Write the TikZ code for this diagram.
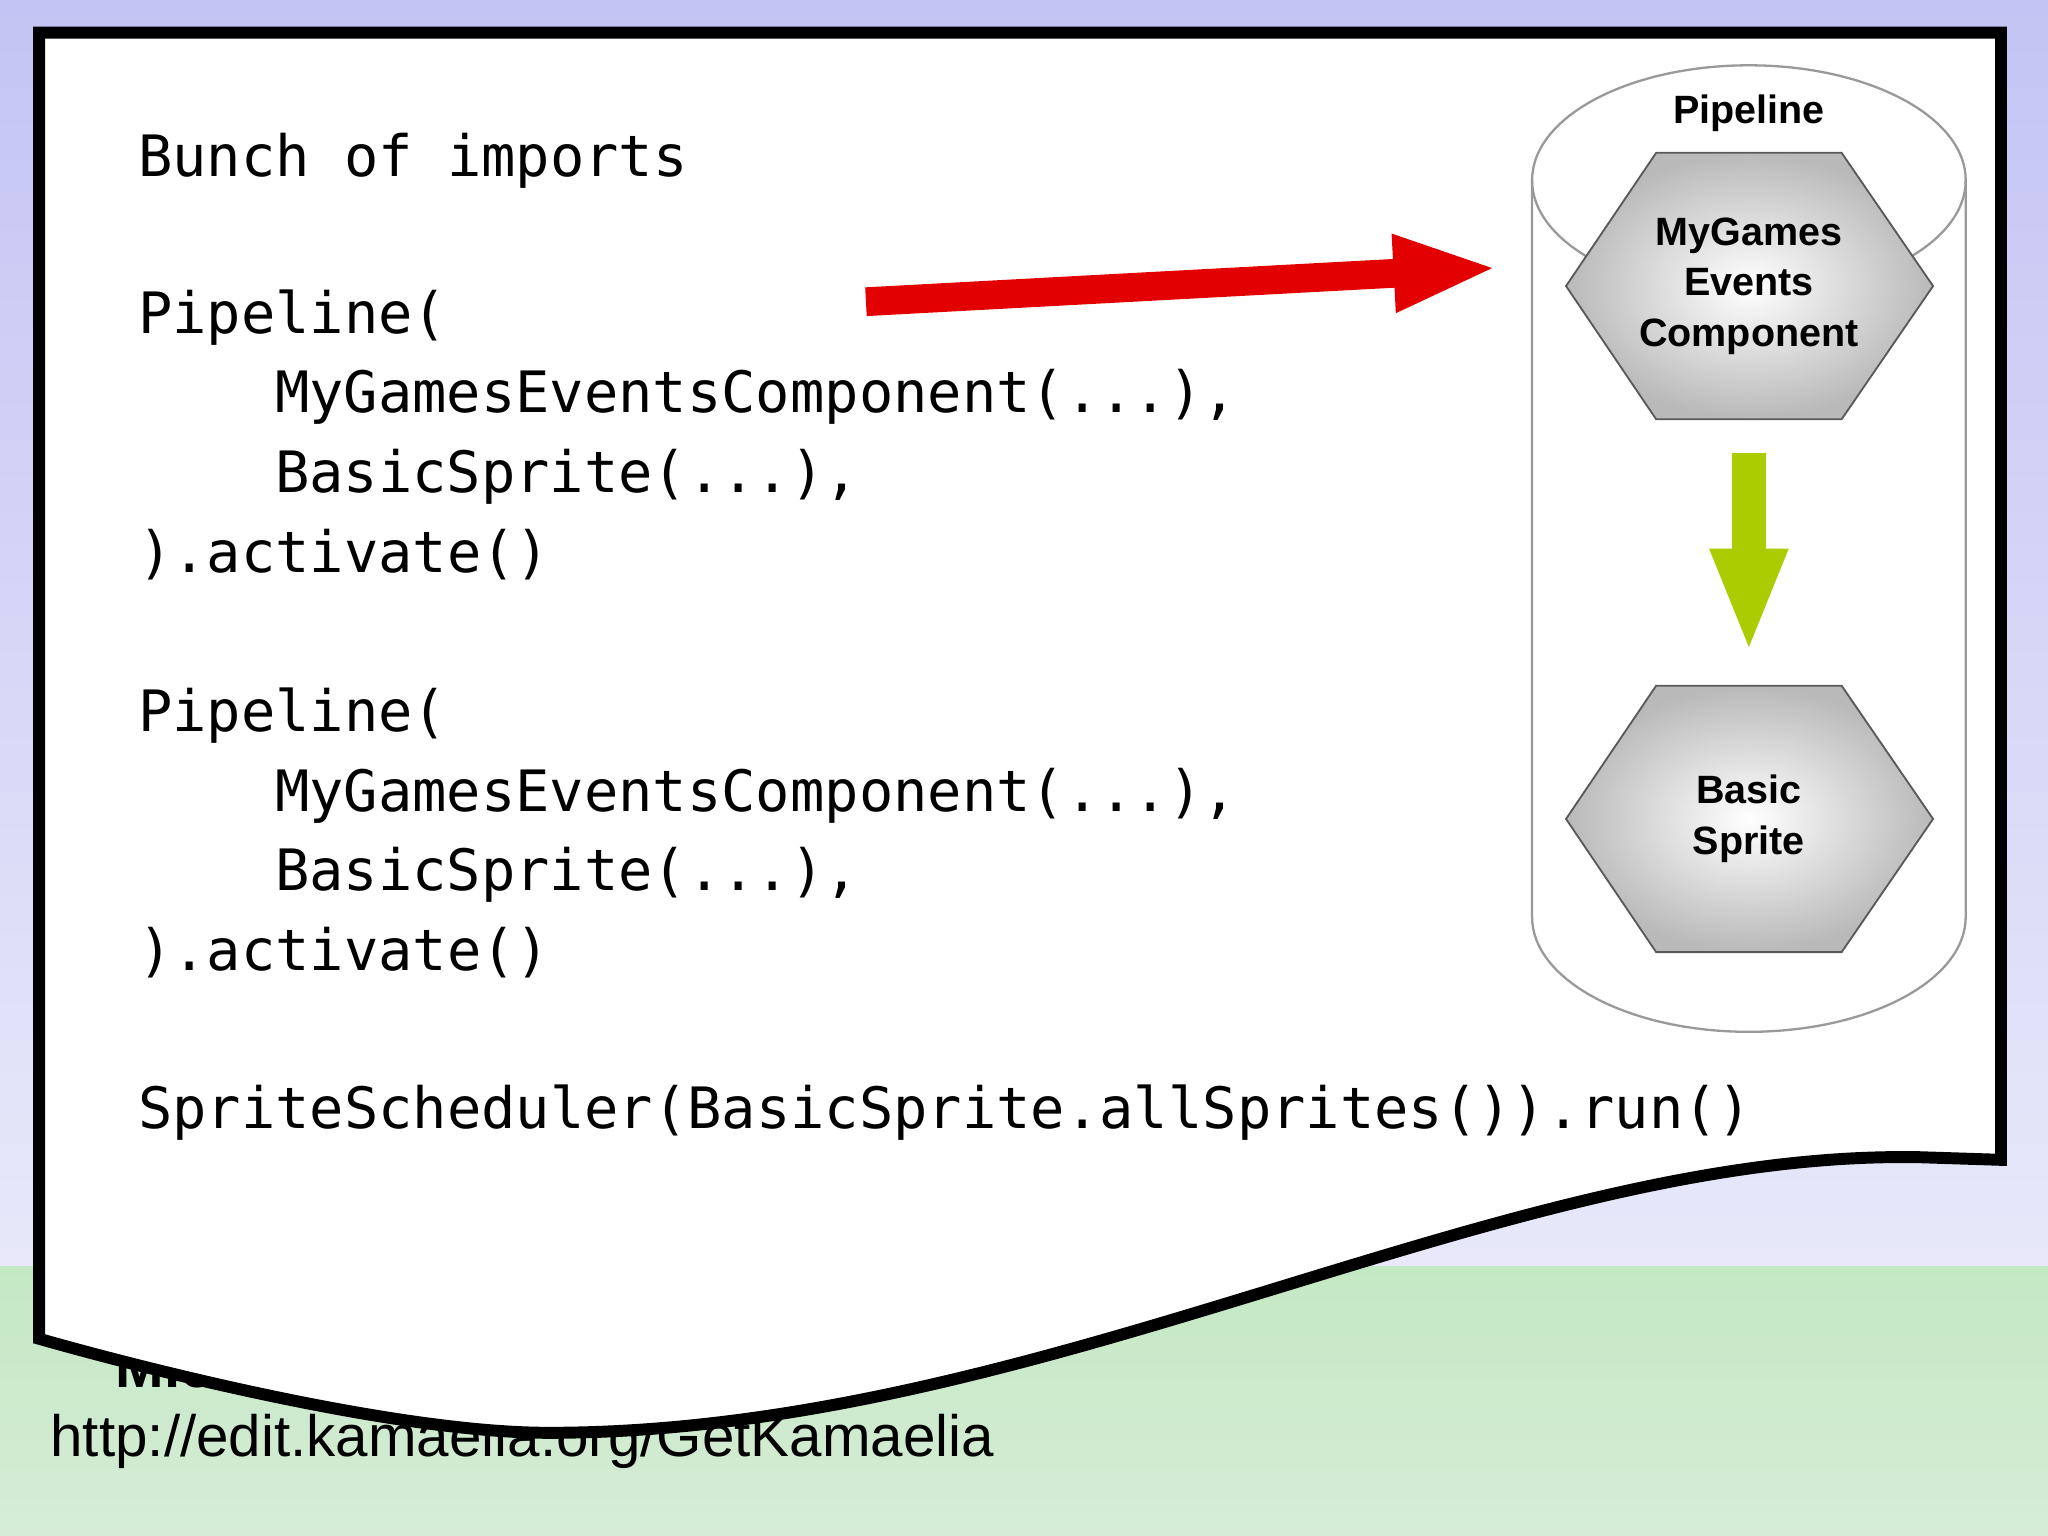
\documentclass[tikz,border=0pt]{standalone}
\usepackage{fontspec}
\setmainfont{Liberation Sans}
\newfontfamily\codefont{DejaVu Sans Mono}
\usetikzlibrary{calc,arrows.meta}
\definecolor{skytop}{RGB}{196,196,244}
\definecolor{skylow}{RGB}{232,232,250}
\definecolor{grasstop}{RGB}{196,232,196}
\definecolor{grasslow}{RGB}{214,236,214}
\definecolor{arrowred}{RGB}{226,0,0}
\definecolor{arrowgreen}{RGB}{170,204,0}
\tikzset{
  code/.style={anchor=base west, inner sep=0pt, font=\codefont\fontsize{12.42}{14}\selectfont},
  hexlabel/.style={align=center, font=\bfseries\fontsize{8.6}{11}\selectfont},
  hexfill/.style={draw=gray!70!black, line width=0.4pt, inner color=white, outer color=gray!55}
}
\newcommand{\hexat}[1]{%
  \draw[hexfill] ($(#1)+(-71,-102)$) -- ($(#1)+(71,-102)$) -- ($(#1)+(141,0)$)
    -- ($(#1)+(71,102)$) -- ($(#1)+(-71,102)$) -- ($(#1)+(-140,0)$) -- cycle;}
\begin{document}
\begin{tikzpicture}[x=0.01cm,y=-0.01cm]
  \useasboundingbox (0,0) rectangle (1568,1176);
  % Background
  \shade[top color=skytop, bottom color=skylow] (0,0) rectangle (1568,970);
  \shade[top color=grasstop, bottom color=grasslow] (0,970) rectangle (1568,1176);
  \node[anchor=base west, inner sep=0pt, font=\bfseries\fontsize{12.7}{14}\selectfont] (author) at (88,1062) {Michael Sparks, BBC R\&D,};
  \node[anchor=base west, inner sep=0pt, font=\fontsize{12.7}{14}\selectfont] (url) at (38,1115) {http://edit.kamaelia.org/GetKamaelia};

  % Paper
  \draw[line width=2.6pt, fill=white] (30,25) -- (1532,25) -- (1532,888) -- (1470,886)
    .. controls (1150,880) and (800,1097) .. (420,1097)
    .. controls (300,1097) and (100,1045) .. (30,1025) -- cycle;

  % Code
  \node[code] (l1) at (105,135) {Bunch of imports};
  \node[code] (l2) at (105,255) {Pipeline(};
  \node[code] (l3) at (210,316) {MyGamesEventsComponent(...),};
  \node[code] (l4) at (210,377) {BasicSprite(...),};
  \node[code] (l5) at (105,438) {).activate()};
  \node[code] (l6) at (105,560) {Pipeline(};
  \node[code] (l7) at (210,621) {MyGamesEventsComponent(...),};
  \node[code] (l8) at (210,682) {BasicSprite(...),};
  \node[code] (l9) at (105,743) {).activate()};
  \node[code] (l10) at (105,864) {SpriteScheduler(BasicSprite.allSprites()).run()};

  % Pipeline cylinder
  \draw[gray!80, line width=0.5pt, fill=white] (1173,138) -- (1173,702) arc[start angle=180, end angle=0, x radius=166, y radius=88]
    -- (1505,138) arc[start angle=0, end angle=-180, x radius=166, y radius=88];
  \draw[gray!80, line width=0.5pt] (1173,138) arc[start angle=180, end angle=0, x radius=166, y radius=88];
  \node[font=\bfseries\fontsize{8.6}{11}\selectfont] (pipe) at (1339,87) {Pipeline};

  \coordinate (hexa) at (1339,219);
  \coordinate (hexb) at (1339,627);
  \hexat{hexa}
  \hexat{hexb}
  \node[hexlabel] (mge) at (hexa) {MyGames\\Events\\Component};
  \node[hexlabel] (bs) at (hexb) {Basic\\Sprite};

  % Arrows
  \coordinate (redstart) at (663,231);
  \coordinate (redend) at (1147,205);
  \draw[arrowred, line width=0.22cm, -{Triangle[length=0.8cm,width=0.54cm]}] (redstart) -- (redend);
  \coordinate (greenstart) at (1339,347);
  \coordinate (greenend) at (1339,500);
  \draw[arrowgreen, line width=0.26cm, -{Triangle[length=0.8cm,width=0.54cm]}] (greenstart) -- (greenend);
\end{tikzpicture}
\end{document}
